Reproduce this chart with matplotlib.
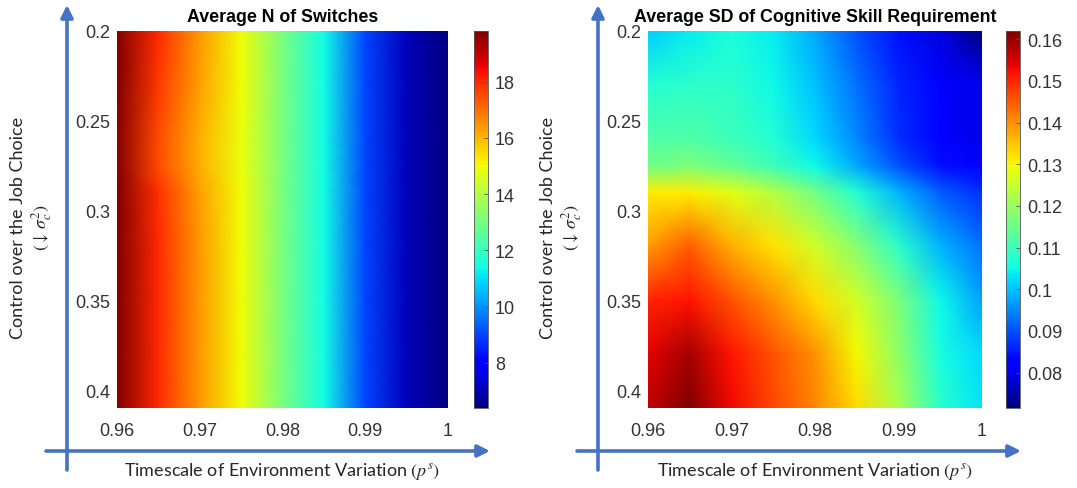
import numpy as np
import matplotlib
matplotlib.use('Agg')
import matplotlib.pyplot as plt

# grid of the simulation (columns: p^s, rows: sigma_c^2)
x_vals = [0.96, 0.965, 0.97, 0.975, 0.98, 0.985, 0.99, 0.995, 1.0]
y_vals = [0.20, 0.23, 0.26, 0.275, 0.29, 0.32, 0.35, 0.38, 0.41]

# average number of switches
switches = [
    [19.8, 18.0, 16.4, 15.0, 13.1, 11.4, 9.0, 7.1, 6.4],
    [19.8, 17.8, 16.3, 15.0, 13.1, 11.4, 9.0, 7.1, 6.4],
    [19.7, 17.5, 16.1, 14.9, 13.1, 11.4, 9.0, 7.1, 6.4],
    [19.7, 17.5, 16.1, 14.9, 13.1, 11.4, 9.0, 7.1, 6.4],
    [19.8, 17.9, 16.3, 15.0, 13.1, 11.4, 9.0, 7.1, 6.4],
    [19.8, 18.0, 16.4, 15.0, 13.1, 11.4, 9.0, 7.1, 6.4],
    [19.8, 18.0, 16.4, 15.0, 13.1, 11.4, 9.0, 7.1, 6.4],
    [19.8, 18.0, 16.4, 15.0, 13.1, 11.4, 9.0, 7.1, 6.4],
    [19.8, 18.0, 16.4, 15.0, 13.1, 11.4, 9.0, 7.1, 6.4],
]

# average SD of cognitive skill requirement
sd_skill = [
    [0.101, 0.104, 0.106, 0.104, 0.098, 0.090, 0.084, 0.079, 0.0715],
    [0.107, 0.108, 0.108, 0.105, 0.100, 0.093, 0.086, 0.082, 0.080],
    [0.112, 0.112, 0.110, 0.107, 0.102, 0.095, 0.087, 0.082, 0.080],
    [0.115, 0.117, 0.114, 0.110, 0.105, 0.098, 0.090, 0.084, 0.082],
    [0.131, 0.131, 0.128, 0.123, 0.116, 0.107, 0.099, 0.091, 0.087],
    [0.139, 0.145, 0.137, 0.132, 0.126, 0.118, 0.108, 0.099, 0.093],
    [0.150, 0.152, 0.146, 0.140, 0.133, 0.126, 0.117, 0.105, 0.097],
    [0.154, 0.159, 0.152, 0.146, 0.140, 0.130, 0.119, 0.106, 0.102],
    [0.157, 0.162, 0.153, 0.147, 0.141, 0.133, 0.122, 0.108, 0.103],
]

titles = ['Average N of Switches', 'Average SD of Cognitive Skill Requirement']
x_ticks = [0.96, 0.97, 0.98, 0.99, 1.0]
x_ticklabels = ['0.96', '0.97', '0.98', '0.99', '1']
y_ticks = [0.2, 0.25, 0.3, 0.35, 0.4]
y_ticklabels = ['0.2', '0.25', '0.3', '0.35', '0.4']
cb_ticks = [[8, 10, 12, 14, 16, 18],
            [0.08, 0.09, 0.1, 0.11, 0.12, 0.13, 0.14, 0.15, 0.16]]
cb_ticklabels = [['8', '10', '12', '14', '16', '18'],
                 ['0.08', '0.09', '0.1', '0.11', '0.12', '0.13', '0.14', '0.15', '0.16']]

plt.rcParams['mathtext.fontset'] = 'stix'
W, H = 1077, 489
fig = plt.figure(figsize=(W / 100, H / 100), dpi=100)

def px(l, t, r, b):
    return [l / W, 1 - b / H, (r - l) / W, (b - t) / H]

tick_col = '#333333'
arrow_col = '#4472C4'
lab_font = 'Lato'

panels = [
    dict(data=switches, ax=(117, 32, 448, 409), cb=(474, 32, 488, 409), off=0),
    dict(data=sd_skill, ax=(648, 32, 982, 409), cb=(1006, 32, 1020, 409), off=531),
]

# overlay for the blue axis arrows
over = fig.add_axes([0, 0, 1, 1], zorder=-1)
over.set_xlim(0, W)
over.set_ylim(H, 0)
over.axis('off')

for i, p in enumerate(panels):
    ax = fig.add_axes(px(*p['ax']))
    X, Y = np.meshgrid(x_vals, y_vals)
    mesh = ax.pcolormesh(X, Y, np.array(p['data']), cmap='jet', shading='gouraud')
    ax.set_xlim(0.96, 1.0)
    ax.set_ylim(0.41, 0.2)
    ax.set_xticks(x_ticks)
    ax.set_xticklabels(x_ticklabels)
    ax.set_yticks(y_ticks)
    ax.set_yticklabels(y_ticklabels)
    ax.tick_params(length=0, labelsize=13, labelcolor=tick_col, pad=5)
    ax.tick_params(axis='x', pad=10)
    for lab in ax.get_xticklabels() + ax.get_yticklabels():
        lab.set_family('Liberation Sans')
    for s in ax.spines.values():
        s.set_visible(False)
    ax.set_title(titles[i], fontsize=12.8, fontweight='bold', family='Liberation Sans', pad=7)

    cax = fig.add_axes(px(*p['cb']))
    cb = fig.colorbar(mesh, cax=cax)
    cb.set_ticks(cb_ticks[i])
    cb.set_ticklabels(cb_ticklabels[i])
    cax.tick_params(direction='in', length=3, width=0.6, color='#555555',
                    labelsize=13, labelcolor=tick_col, pad=5)
    for lab in cax.get_yticklabels():
        lab.set_family('Liberation Sans')
    cb.outline.set_edgecolor('#555555')
    cb.outline.set_linewidth(0.6)

    o = p['off']
    # axis arrows
    over.annotate('', xy=(67 + o, 6), xytext=(67 + o, 471),
                  arrowprops=dict(arrowstyle='-|>', color=arrow_col, lw=2.6,
                                  mutation_scale=18, shrinkA=0, shrinkB=0))
    over.annotate('', xy=(490 + o, 452), xytext=(46 + o, 452),
                  arrowprops=dict(arrowstyle='-|>', color=arrow_col, lw=2.6,
                                  mutation_scale=18, shrinkA=0, shrinkB=0))

    # axis labels
    cx = (p['ax'][0] + p['ax'][2]) / 2
    over.text(cx, 472, r'Timescale of Environment Variation $(p^s)$', fontsize=13,
              family=lab_font, color='#262626', ha='center', va='center')
    lx = 18 + (0 if i == 0 else 530)
    over.text(lx, 228, 'Control over the Job Choice', fontsize=13, family=lab_font,
              color='#262626', rotation=90, ha='center', va='center')
    over.text(lx + 24, 228, r'$(\downarrow\,\sigma_c^2)$', fontsize=13,
              color='#262626', rotation=90, ha='center', va='center')

fig.savefig('out.png', dpi=100)
